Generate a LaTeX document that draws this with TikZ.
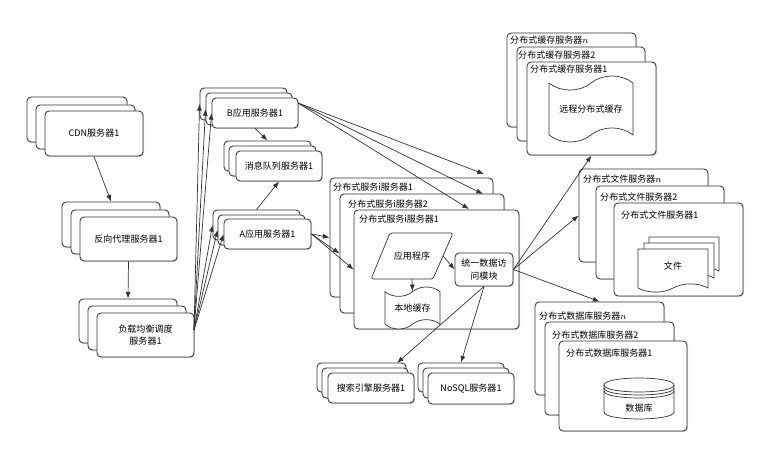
\documentclass[tikz,border=0pt]{standalone}
\usepackage{fontspec}
\setmainfont{Noto Sans CJK SC}
\usetikzlibrary{arrows.meta}
\usetikzlibrary{shapes.symbols,shadows}
\colorlet{inkline}{black!80}
\tikzset{
Srv/.style={draw=inkline,fill=white,line width=.75pt,rounded corners=3.5pt,inner sep=0pt,align=center,font=\fontsize{7.7}{11}\selectfont,drop shadow={opacity=.35,shadow xshift=.03cm,shadow yshift=-.03cm}},
Title/.style={anchor=west,inner sep=0pt,font=\fontsize{7.7}{10}\selectfont},
Doc/.style={shape=tape,draw=inkline,fill=white,line width=.6pt,inner sep=0pt,font=\fontsize{7.7}{10}\selectfont},
Thin/.style={draw=inkline,line width=.6pt},
Conn/.style={-{Latex[length=2mm,width=1.5mm]},inkline,line width=.6pt}
}
% box given by its corners in pixels of the picture
\newcommand{\srvbox}[6]{\node[Srv,minimum width={(#4-#2)*0.03cm},minimum height={(#5-#3)*0.03cm}] (#1) at ({(#2+#4)/2},{(#3+#5)/2}) {#6};}

\begin{document}
\begin{tikzpicture}[x=0.03cm,y=-0.03cm]
\useasboundingbox[fill=white] (0,0) rectangle (766,459);

% left column
\srvbox{CDNa}{27}{97}{127}{142}{}
\srvbox{CDNb}{36}{105}{135}{149}{}
\srvbox{CDNc}{45}{111}{143}{156}{CDN服务器1}

\srvbox{Proxya}{62}{202}{160}{247}{}
\srvbox{Proxyb}{71}{210}{169}{254}{}
\srvbox{Proxyc}{80}{217}{177}{261}{反向代理服务器1}

\srvbox{LBa}{79}{299}{177}{343}{}
\srvbox{LBb}{88}{306}{186}{350}{}
\srvbox{LBc}{97}{313}{194}{357}{负载均衡调度\\服务器1}

% application servers and queue
\srvbox{Ba}{200}{88}{287}{120}{}
\srvbox{Bb}{206}{93}{292}{125}{}
\srvbox{Bc}{212}{98}{298}{128}{B应用服务器1}

\srvbox{Qa}{224}{141}{311}{171}{}
\srvbox{Qb}{229}{146}{316}{176}{}
\srvbox{Qc}{236}{151}{322}{181}{消息队列服务器1}

\srvbox{Aa}{213}{210}{300}{240}{}
\srvbox{Ab}{218}{215}{305}{245}{}
\srvbox{Ac}{224}{219}{311}{249}{A应用服务器1}

% distributed services
\srvbox{Sa}{330}{178}{493}{297}{}
\node[Title] (Sat) at (333,187) {分布式服务i服务器1};
\srvbox{Sb}{340}{194}{504}{313}{}
\node[Title] (Sbt) at (348,204) {分布式服务i服务器2};
\srvbox{Sc}{354}{210}{519}{329}{}
\node[Title] (Sct) at (359,219) {分布式服务i服务器1};

\draw[Thin,fill=white,rounded corners=2pt] (390,233)--(453,233)--(433,279)--(371,279)--cycle;
\node[inner sep=0pt,minimum width={62*0.03cm},minimum height={46*0.03cm},font=\fontsize{7.7}{10}\selectfont] (App) at (412,256) {应用程序};
\node[Doc,tape bend height=8pt,minimum width={55*0.03cm},minimum height={42*0.03cm}] (Local) at (412.5,308) {本地缓存};
\srvbox{Mod}{455}{253}{513}{286}{统一数据访\\问模块}

% search and nosql
\srvbox{Fa}{317}{363}{406}{392}{}
\srvbox{Fb}{322}{368}{408}{398}{}
\srvbox{Fc}{328}{373}{414}{403}{搜索引擎服务器1}

\srvbox{Na}{418}{363}{504}{392}{}
\srvbox{Nb}{423}{368}{509}{398}{}
\srvbox{Nc}{428}{373}{514}{404}{NoSQL服务器1}

% distributed cache
\srvbox{Ca}{507}{33}{636}{127}{}
\node[Title] (Cat) at (510,40) {分布式缓存服务器$n$};
\srvbox{Cb}{517}{47}{645}{141}{}
\node[Title] (Cbt) at (518,55) {分布式缓存服务器2};
\srvbox{Cc}{527}{62}{656}{155}{}
\node[Title] (Cct) at (530,69) {分布式缓存服务器1};
\node[Doc,tape bend height=12pt,minimum width={84*0.03cm},minimum height={66*0.03cm}] (Remote) at (591,109) {远程分布式缓存};

% distributed files
\srvbox{Da}{579}{169}{708}{262}{}
\node[Title] (Dat) at (583,179) {分布式文件服务器$n$};
\srvbox{Db}{596}{186}{724}{279}{}
\node[Title] (Dbt) at (600,197) {分布式文件服务器2};
\srvbox{Dc}{614}{203}{743}{296}{}
\node[Title] (Dct) at (621,215) {分布式文件服务器1};
\node[Doc,tape bend top=none,tape bend height=7pt,minimum width={70*0.03cm},minimum height={38*0.03cm}] (Filea) at (684,252) {};
\node[Doc,tape bend top=none,tape bend height=7pt,minimum width={70*0.03cm},minimum height={39*0.03cm}] (Fileb) at (679,258.5) {};
\node[Doc,tape bend top=none,tape bend height=7pt,minimum width={70*0.03cm},minimum height={43*0.03cm}] (Filec) at (673,266.5) {文件};

% distributed database
\srvbox{Ea}{535}{302}{664}{395}{}
\node[Title] (Eat) at (539,316) {分布式数据库服务器$n$};
\srvbox{Eb}{545}{322}{674}{415}{}
\node[Title] (Ebt) at (552,335) {分布式数据库服务器2};
\srvbox{Ec}{559}{341}{687}{431}{}
\node[Title] (Ect) at (566,353) {分布式数据库服务器1};
\draw[Thin,fill=white] (604,385) .. controls (604,375.7) and (674,375.7) .. (674,385) -- (674,412) .. controls (674,421.3) and (604,421.3) .. (604,412) -- cycle;
\draw[Thin] (604,385) .. controls (604,394.3) and (674,394.3) .. (674,385);
\draw[Thin] (604,388) .. controls (604,397.3) and (674,397.3) .. (674,388);
\draw[Thin] (604,391) .. controls (604,400.3) and (674,400.3) .. (674,391);
\node[inner sep=0pt,font=\fontsize{7.7}{10}\selectfont] (DB) at (639,408) {数据库};

% free ends of the connectors
\coordinate (LBout) at (194,330);
\coordinate (Bout) at (298,103);
\coordinate (Sain) at (484,174);
\coordinate (Sbin) at (483,194);
\coordinate (Scin) at (469,209);
\coordinate (Fain) at (397,363);

\draw[Conn] (CDNc.south)--(Proxya.north);
\draw[Conn] (Proxyc.south)--(LBa.north);

\draw[Conn] (LBout)--(Ba.west);
\draw[Conn] (LBout)--(Bb.west);
\draw[Conn] (LBout)--(Bc.west);
\draw[Conn] (LBout)--(Aa.west);
\draw[Conn] (LBout)--(Ab.west);
\draw[Conn] (LBout)--(Ac.west);

\draw[Conn] (Bc.south)--(Qa.north);
\draw[Conn] (Aa.north)--(Qc.south);

\draw[Conn] (Bout)--(Sain);
\draw[Conn] (Bout)--(Sbin);
\draw[Conn] (Bout)--(Scin);
\draw[Conn] (Ac.east)--(Sa.west);
\draw[Conn] (Ac.east)--(Sb.west);
\draw[Conn] (Ac.east)--(Sc.west);

\draw[Conn] (App.east)--(Mod.west);
\draw[Conn] (App.south)--(Local.north);

\draw[Conn] (Mod.south)--(Fain);
\draw[Conn] (Mod.south)--(Na.north);
\draw[Conn] (Mod.east)--(Cc.south);
\draw[Conn] (Mod.east)--(Da.west);
\draw[Conn] (Mod.east)--(Ea.north);

\end{tikzpicture}
\end{document}
